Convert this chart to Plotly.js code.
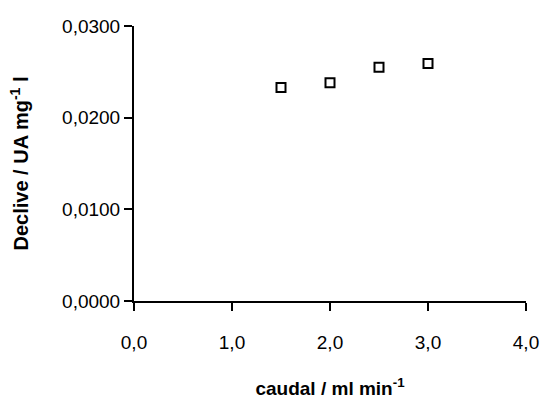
<!DOCTYPE html>
<html>
<head>
<meta charset="utf-8">
<script src="https://cdn.plot.ly/plotly-3.0.1.min.js"></script>
<style>html,body{margin:0;padding:0;background:#fff;}#chart{width:544px;height:412px;}</style>
</head>
<body>
<div id="chart"></div>
<script>
const flowRate = [1.5, 2.0, 2.5, 3.0];
const slope = [0.0233, 0.0238, 0.0255, 0.0259];
const xTicks = [0, 1, 2, 3, 4];
const yTicks = [0, 0.01, 0.02, 0.03];
const xTitle = 'caudal / ml min<sup>-1</sup>';
const yTitle = 'Declive / UA mg<sup>-1</sup> l';

const fontFam = '"Liberation Sans", Arial, Helvetica, sans-serif';

const trace = {
  x: flowRate,
  y: slope,
  type: 'scatter',
  mode: 'markers',
  marker: {symbol: 'square-open', size: 9, color: '#000', line: {width: 2, color: '#000'}},
  hoverinfo: 'skip'
};

const layout = {
  width: 544,
  height: 412,
  margin: {l: 134, r: 18, t: 26, b: 111, pad: 0},
  paper_bgcolor: '#fff',
  plot_bgcolor: '#fff',
  separators: ',.',
  showlegend: false,
  font: {family: fontFam, size: 19, color: '#000'},
  xaxis: {
    range: [0, 4],
    tickvals: xTicks,
    tickformat: '.1f',
    showgrid: false,
    zeroline: false,
    showline: true,
    linecolor: '#000',
    linewidth: 2,
    ticks: 'outside',
    ticklen: 8,
    tickwidth: 2,
    tickcolor: '#000',
    ticklabelstandoff: 15,
    tickfont: {family: fontFam, size: 19, color: '#000'},
    automargin: false,
    title: {text: xTitle, font: {family: fontFam, size: 19, color: '#000', weight: 'bold'}, standoff: 30}
  },
  yaxis: {
    range: [0, 0.03],
    tickvals: yTicks,
    tickformat: '.4f',
    showgrid: false,
    zeroline: false,
    showline: true,
    linecolor: '#000',
    linewidth: 2,
    ticks: 'outside',
    ticklen: 8,
    tickwidth: 2,
    tickcolor: '#000',
    ticklabelstandoff: 0,
    tickfont: {family: fontFam, size: 19, color: '#000'},
    automargin: false,
    title: {text: yTitle, font: {family: fontFam, size: 20, color: '#000', weight: 'bold'}, standoff: 28}
  }
};

Plotly.newPlot('chart', [trace], layout, {staticPlot: true, displayModeBar: false});
</script>
</body>
</html>
